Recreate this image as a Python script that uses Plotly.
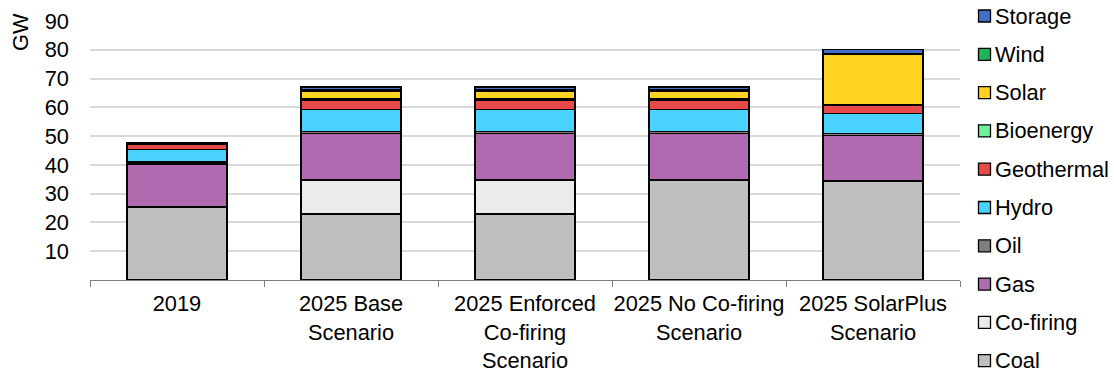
import plotly.graph_objects as go

# Installed capacity by technology (GW)
categories = ["2019", "2025 Base<br>Scenario", "2025 Enforced<br>Co-firing<br>Scenario",
              "2025 No Co-firing<br>Scenario", "2025 SolarPlus<br>Scenario"]

coal = [25.4, 22.9, 22.9, 34.8, 34.4]
cofiring = [0.0, 11.9, 11.9, 0.0, 0.0]
gas = [14.9, 16.2, 16.2, 16.2, 15.9]
oil = [0.7, 0.7, 0.7, 0.7, 0.7]
hydro = [4.3, 7.5, 7.5, 7.5, 6.9]
geothermal = [2.0, 3.4, 3.4, 3.4, 2.8]
bioenergy = [0.3, 0.4, 0.4, 0.4, 0.3]
solar = [0.1, 2.7, 2.7, 2.7, 17.4]
wind = [0.1, 0.5, 0.5, 0.5, 0.4]
storage = [0.0, 0.9, 0.9, 0.9, 1.2]

series = [
    ("Coal", coal, "#BFBFBF"),
    ("Co-firing", cofiring, "#EBEBEB"),
    ("Gas", gas, "#B06BB0"),
    ("Oil", oil, "#7F7F7F"),
    ("Hydro", hydro, "#4BD3FF"),
    ("Geothermal", geothermal, "#E84A4A"),
    ("Bioenergy", bioenergy, "#6EF09A"),
    ("Solar", solar, "#FFD320"),
    ("Wind", wind, "#1EB45A"),
    ("Storage", storage, "#3F6FC8"),
]

FONT = "Liberation Sans, Arial, sans-serif"
FS = 21.8
W, H = 1114, 374
ML, MR, MT, MB = 90, 154, 21, 94
PW, PH = W - ML - MR, H - MT - MB


def px_x(x):
    return (x - ML) / PW


def px_y(y):
    return 1 - (y - MT) / PH


fig = go.Figure()
for name, vals, color in series:
    fig.add_trace(go.Bar(
        x=categories, y=vals, name=name, showlegend=False,
        marker=dict(color=color, line=dict(color="#000000", width=1.4)),
    ))

# Key on the right: top entry is the last stacked series
shapes, annotations = [], []
for i, (name, _vals, color) in enumerate(reversed(series)):
    yc = 16 + i * 38.3
    shapes.append(dict(
        type="rect", xref="paper", yref="paper",
        x0=px_x(978.5), x1=px_x(990.5), y0=px_y(yc - 6), y1=px_y(yc + 6),
        fillcolor=color, line=dict(color="#000000", width=1.3),
    ))
    annotations.append(dict(
        text=name, xref="paper", yref="paper", x=px_x(993), y=px_y(yc),
        xanchor="left", yanchor="middle", showarrow=False,
        font=dict(family=FONT, size=FS, color="#000000"),
    ))

annotations.append(dict(
    text="GW", textangle=-90, xref="paper", yref="paper",
    x=px_x(20), y=1.0, xanchor="center", yanchor="top", yshift=10,
    showarrow=False, font=dict(family=FONT, size=FS),
))

fig.update_layout(
    barmode="stack",
    bargap=0.425,
    width=W, height=H,
    margin=dict(l=ML, r=MR, t=MT, b=MB, autoexpand=False),
    paper_bgcolor="white", plot_bgcolor="white",
    font=dict(family=FONT, size=FS, color="#000000"),
    showlegend=False,
    xaxis=dict(
        automargin=False,
        showline=True, linecolor="#7F7F7F", linewidth=1.3,
        ticks="outside", tickson="boundaries", ticklen=6, tickcolor="#7F7F7F",
        tickfont=dict(size=FS), tickangle=0, ticklabelstandoff=4,
    ),
    yaxis=dict(
        automargin=False,
        range=[0, 90], tickvals=[10, 20, 30, 40, 50, 60, 70, 80, 90],
        showgrid=True, gridcolor="#D9D9D9", gridwidth=1.5,
        showline=False, zeroline=False, ticks="", ticklabelstandoff=20,
        tickfont=dict(size=FS),
    ),
    shapes=shapes,
    annotations=annotations,
)

fig.write_html("out.html")
